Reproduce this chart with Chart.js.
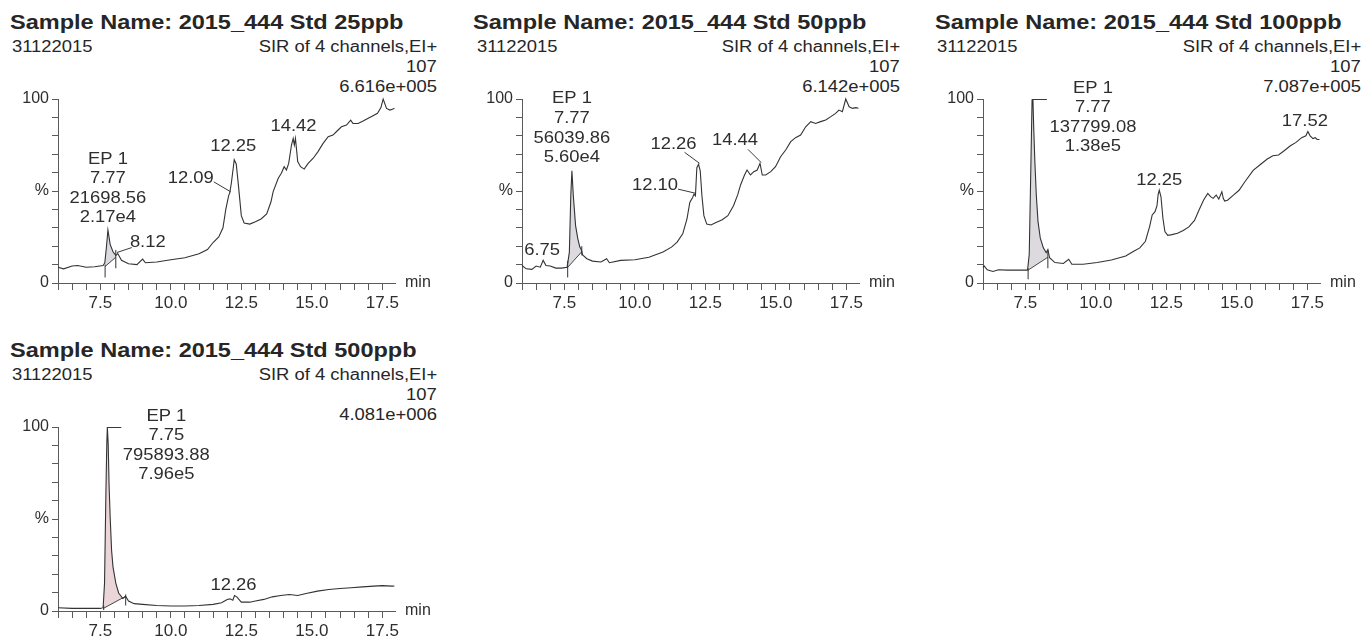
<!DOCTYPE html>
<html lang="en">
<head>
<meta charset="UTF-8">
<title>SIR chromatograms 2015_444</title>
<script src="https://cdn.jsdelivr.net/npm/chart.js"></script>
<style>
  body { margin: 0; background: #fff; }
  #page { position: relative; width: 1363px; height: 637px; overflow: hidden; font-family: "Liberation Sans", Arial, sans-serif; color: #262626; }
  #page canvas { position: absolute; }
  .txt { position: absolute; white-space: nowrap; }
  .title { font: bold 21px/24px "Liberation Sans", Arial, sans-serif; transform: scaleX(1.12); transform-origin: 0 0; }
  .sub { font: 16px/18px "Liberation Sans", Arial, sans-serif; transform: scaleX(1.15); transform-origin: 0 0; }
  .sub.r { transform-origin: 100% 0; text-align: right; }
</style>
</head>
<body>
<div id="page"></div>

<script>
// ---- axis ticks ----
const xTicks = [6.0, 6.5, 7.0, 7.5, 8.0, 8.5, 9.0, 9.5, 10.0, 10.5, 11.0, 11.5, 12.0, 12.5, 13.0, 13.5, 14.0, 14.5, 15.0, 15.5, 16.0, 16.5, 17.0, 17.5];
const xLabelTicks = [7.5, 10.0, 12.5, 15.0, 17.5];
const yTicks = [0, 10, 20, 30, 40, 50, 60, 70, 80, 90, 100];
const yLabelTicks = [0, 50, 100];
const yLabelNames = ['0', '%', '100'];

// ---- 25 ppb ----
const t25 = [6.0, 6.2, 6.5, 6.7, 7.0, 7.3, 7.6, 7.66, 7.72, 7.77, 7.85, 7.95, 8.05, 8.12, 8.25, 8.5, 8.8, 9.0, 9.1, 9.5,
  10.0, 10.5, 11.0, 11.3, 11.5, 11.7, 11.85, 11.95, 12.05, 12.09, 12.15, 12.25, 12.32, 12.4, 12.5, 12.6, 12.8, 13.0, 13.2, 13.4,
  13.55, 13.63, 13.81, 13.92, 14.02, 14.1, 14.18, 14.28, 14.34, 14.38, 14.42, 14.5, 14.6, 14.73, 14.87, 15.05, 15.22, 15.4, 15.58, 15.75,
  15.87, 16.05, 16.23, 16.38, 16.46, 16.64, 16.82, 17.0, 17.17, 17.33, 17.45, 17.53, 17.65, 17.77, 17.88, 17.93];
const i25 = [8.6, 7.7, 9.2, 9.5, 8.6, 8.8, 9.5, 11, 20, 28.8, 21, 17, 15, 16, 12.3, 10.5, 10, 13, 11, 11.4,
  12.6, 13.7, 15.9, 18.2, 22, 25, 30, 40, 47.4, 49, 54.6, 67, 64.7, 52.8, 36.6, 32.6, 32, 33.3, 34.8, 37.5,
  44, 49.7, 56.9, 59.6, 63.2, 61.4, 65, 75, 78.6, 75, 78.6, 66, 63.2, 61.9, 65, 67.8, 71.4, 75.9, 79.5, 80.4,
  82.2, 84.9, 85.8, 88.5, 86.7, 86.7, 88, 89.5, 90.9, 92.2, 95.3, 100, 94.9, 94, 94.6, 95];
const area25T = [7.67, 8.05];
const area25Base = [9, 14];
const area25Marks = [[3, 10], [8, 18]];

// ---- 50 ppb ----
const t50 = [6.0, 6.15, 6.35, 6.5, 6.65, 6.75, 6.85, 7.0, 7.2, 7.4, 7.6, 7.68, 7.73, 7.77, 7.82, 7.9, 7.98, 8.05, 8.1, 8.15,
  8.3, 8.5, 8.8, 9.0, 9.1, 9.5, 10.0, 10.5, 11.0, 11.3, 11.5, 11.7, 11.85, 11.95, 12.05, 12.1, 12.15, 12.2, 12.26, 12.32,
  12.38, 12.45, 12.55, 12.7, 12.9, 13.1, 13.3, 13.5, 13.65, 13.75, 13.89, 13.98, 14.1, 14.22, 14.34, 14.44, 14.52, 14.64, 14.82, 14.99,
  15.17, 15.35, 15.53, 15.7, 15.88, 16.06, 16.24, 16.41, 16.59, 16.77, 16.95, 17.12, 17.24, 17.36, 17.48, 17.6, 17.72, 17.84, 17.93];
const i50 = [9.5, 7.7, 7.4, 9.2, 8.6, 12.3, 9.5, 9.2, 8.1, 8.1, 8.6, 16.8, 47.4, 61, 47.4, 31.2, 24, 19.5, 18.2, 15.3,
  13.2, 11.9, 11.4, 13.2, 11, 12.3, 12.6, 14, 16.8, 19.5, 22.2, 26.7, 34.8, 43.8, 46.5, 48.3, 47.4, 62.7, 64.5, 61,
  47.4, 36.6, 32, 31.5, 33, 34.4, 36.6, 42, 48, 53.3, 58.7, 61.4, 58.7, 60.5, 61.4, 65, 58.7, 58.7, 60.5, 63.2,
  68.6, 72.3, 76.8, 79, 80.4, 84.9, 87.7, 86.7, 87.7, 88.6, 90.4, 92.2, 94, 93.1, 100, 95.8, 94.9, 95.3, 95];
const area50T = [7.62, 8.12];
const area50Base = [8.5, 17];
const area50Marks = [[3, 12], [15, 20]];

// ---- 100 ppb ----
const t100 = [6.0, 6.04, 6.15, 6.35, 6.55, 6.85, 7.05, 7.35, 7.58, 7.64, 7.7, 7.74, 7.77, 7.8, 7.84, 7.89, 7.95, 8.03, 8.14, 8.24,
  8.3, 8.36, 8.55, 8.85, 9.04, 9.15, 9.55, 10.05, 10.55, 11.06, 11.36, 11.56, 11.76, 11.91, 12.0, 12.1, 12.17, 12.21, 12.25, 12.31,
  12.38, 12.45, 12.55, 12.7, 12.9, 13.1, 13.3, 13.5, 13.66, 13.82, 13.97, 14.07, 14.16, 14.27, 14.36, 14.47, 14.52, 14.57, 14.67, 14.88,
  15.08, 15.28, 15.58, 15.87, 16.08, 16.28, 16.48, 16.68, 16.9, 17.1, 17.3, 17.45, 17.52, 17.6, 17.7, 17.78, 17.85, 17.93];
const i100 = [8.5, 9.3, 7.2, 6.3, 7.2, 7, 7, 7, 7, 15.6, 65.6, 99.6, 100, 83.5, 65.6, 47.8, 33.5, 24.5, 19.1, 16.5,
  18.2, 13.8, 11.1, 10.6, 12.9, 10.2, 10.2, 11.1, 12.5, 14.7, 17.4, 19.1, 22.7, 30.8, 37, 38.8, 42, 48, 50.4, 47,
  35.2, 28, 25.9, 26.3, 27, 28.5, 30.5, 34, 39.7, 45, 48.7, 46.9, 46, 47.8, 45.6, 49.6, 46, 44.5, 45, 47.8,
  50.4, 54.9, 61.2, 64.8, 67.4, 69.2, 69.6, 71.9, 74.6, 76.4, 79, 80, 82.3, 80, 78.5, 79, 78, 78];
const area100T = [7.6, 8.3];
const area100Base = [7, 14];
const area100Marks = [[2, 8], [8, 18]];

// ---- 500 ppb ----
const t500 = [6.0, 6.5, 7.0, 7.5, 7.6, 7.65, 7.7, 7.73, 7.75, 7.78, 7.81, 7.85, 7.9, 7.95, 8.05, 8.15, 8.3, 8.4, 8.5, 8.7,
  9.0, 9.5, 10.0, 10.5, 11.0, 11.5, 11.8, 12.0, 12.1, 12.2, 12.26, 12.34, 12.5, 12.8, 13.0, 13.3, 13.6, 13.9, 14.2, 14.5,
  14.8, 15.2, 15.6, 16.0, 16.4, 16.8, 17.2, 17.5, 17.85, 17.93];
const i500 = [1.8, 1.4, 1.4, 1.4, 1.8, 15, 65.5, 90.7, 100, 90.7, 69, 51, 33, 24, 15.2, 9.8, 6.8, 8, 5.4, 4,
  3.6, 3, 2.7, 2.7, 3, 3.6, 4.5, 6.3, 6.6, 5.9, 8.4, 7.7, 4.8, 4.8, 5.4, 6.3, 7.7, 8.4, 9, 8.4,
  9.5, 10.8, 11.7, 12.2, 12.6, 13.1, 13.5, 13.8, 13.5, 13.6];
const area500T = [7.62, 8.4];
const area500Base = [1.5, 8];
const area500Marks = [[0.5, 3], [3, 9]];

// ---- panels: layout and labels ----
const panels = [
  { id: 'c25', left: 0, top: 0, axis: 58, titleX: 10, dateX: 12, rightX: 437,
    title: 'Sample Name: 2015_444 Std 25ppb', scaleMax: '6.616e+005',
    t: t25, v: i25, areaT: area25T, areaBase: area25Base, marks: area25Marks, fill: 'rgba(214,212,217,0.85)',
    peaks: [
      { t: 7.77, lines: ['EP 1', '7.77', '21698.56', '2.17e4'], dx: 0, dy: -12 },
      { t: 8.12, lines: ['8.12'], dx: 30, dy: -11, leader: [14, -6] },
      { t: 12.09, lines: ['12.09'], dx: -39, dy: -14, leader: [-16, -11] },
      { t: 12.25, lines: ['12.25'], dx: -1, dy: -13 },
      { t: 14.42, lines: ['14.42'], dx: -2, dy: -12 }
    ] },
  { id: 'c50', left: 460, top: 0, axis: 522, titleX: 473, dateX: 477, rightX: 900,
    title: 'Sample Name: 2015_444 Std 50ppb', scaleMax: '6.142e+005',
    t: t50, v: i50, areaT: area50T, areaBase: area50Base, marks: area50Marks, fill: 'rgba(214,212,217,0.85)',
    peaks: [
      { t: 7.77, lines: ['EP 1', '7.77', '56039.86', '5.60e4'], dx: 0, dy: -13 },
      { t: 6.75, lines: ['6.75'], dx: -1, dy: -10 },
      { t: 12.10, lines: ['12.10'], dx: -39, dy: -9, leader: [-16, -5] },
      { t: 12.26, lines: ['12.26'], dx: -25, dy: -20, leader: [-14, -12] },
      { t: 14.44, lines: ['14.44'], dx: -25, dy: -23, leader: [-12, -14] }
    ] },
  { id: 'c100', left: 915, top: 0, axis: 983, titleX: 935, dateX: 937, rightX: 1361,
    title: 'Sample Name: 2015_444 Std 100ppb', scaleMax: '7.087e+005',
    t: t100, v: i100, areaT: area100T, areaBase: area100Base, marks: area100Marks, fill: 'rgba(214,212,217,0.85)',
    peaks: [
      { t: 7.77, lines: ['EP 1', '7.77', '137799.08', '1.38e5'], dx: 60, dy: 48, bracket: 14 },
      { t: 12.25, lines: ['12.25'], dx: 0, dy: -10 },
      { t: 17.52, lines: ['17.52'], dx: -3, dy: -10 }
    ] },
  { id: 'c500', left: 0, top: 328, axis: 58, titleX: 10, dateX: 12, rightX: 437,
    title: 'Sample Name: 2015_444 Std 500ppb', scaleMax: '4.081e+006',
    t: t500, v: i500, areaT: area500T, areaBase: area500Base, marks: area500Marks, fill: 'rgba(232,208,213,0.9)',
    peaks: [
      { t: 7.75, lines: ['EP 1', '7.75', '795893.88', '7.96e5'], dx: 59, dy: 48, bracket: 14 },
      { t: 12.26, lines: ['12.26'], dx: -1, dy: -10 }
    ] }
];

const CANVAS_W = 448, CANVAS_H = 320, PLOT_W = 337, PLOT_TOP = 99, PLOT_BOTTOM = 283;
const INK = '#2e2e2e', AXIS = '#5a5a5a';
const panelById = {};

Chart.defaults.font.family = '"Liberation Sans", Arial, sans-serif';
Chart.defaults.color = INK;

function valueAt(ts, vs, t) {
  for (let i = 1; i < ts.length; i++) {
    if (t <= ts[i]) {
      const k = (t - ts[i - 1]) / (ts[i] - ts[i - 1]);
      return vs[i - 1] + k * (vs[i] - vs[i - 1]);
    }
  }
  return vs[vs.length - 1];
}

function stretchText(ctx, s, x, y) {
  ctx.save();
  ctx.translate(x, y);
  ctx.scale(1.15, 1);
  ctx.fillText(s, 0, 0);
  ctx.restore();
}

const peakPlugin = {
  id: 'peaks',
  beforeDatasetsDraw(chart) {
    const p = panelById[chart.canvas.id];
    const { ctx, scales: { x, y } } = chart;
    const pts = [[p.areaT[0], valueAt(p.t, p.v, p.areaT[0])]];
    p.t.forEach((tt, i) => { if (tt > p.areaT[0] && tt < p.areaT[1]) pts.push([tt, p.v[i]]); });
    pts.push([p.areaT[1], valueAt(p.t, p.v, p.areaT[1])]);
    ctx.save();
    ctx.beginPath();
    pts.forEach(([tt, vv], i) => {
      const X = x.getPixelForValue(tt), Y = y.getPixelForValue(vv);
      if (i) ctx.lineTo(X, Y); else ctx.moveTo(X, Y);
    });
    ctx.lineTo(x.getPixelForValue(p.areaT[1]), y.getPixelForValue(p.areaBase[1]));
    ctx.lineTo(x.getPixelForValue(p.areaT[0]), y.getPixelForValue(p.areaBase[0]));
    ctx.closePath();
    ctx.fillStyle = p.fill;
    ctx.fill();
    ctx.restore();
  },
  afterDatasetsDraw(chart) {
    const p = panelById[chart.canvas.id];
    const { ctx, chartArea, scales: { x, y } } = chart;
    ctx.save();
    ctx.fillStyle = INK;
    ctx.strokeStyle = '#3a3a3a';
    ctx.lineWidth = 1;
    ctx.font = '16px "Liberation Sans", Arial, sans-serif';
    ctx.textAlign = 'center';
    ctx.textBaseline = 'middle';
    p.peaks.forEach(pk => {
      const px = x.getPixelForValue(pk.t);
      const py = y.getPixelForValue(valueAt(p.t, p.v, pk.t));
      const n = pk.lines.length;
      pk.lines.forEach((s, i) => stretchText(ctx, s, px + pk.dx, py + pk.dy - (n - 1 - i) * 19.6));
      if (pk.leader) {
        ctx.beginPath();
        ctx.moveTo(px + pk.leader[0], py + pk.leader[1]);
        ctx.lineTo(px - Math.sign(pk.leader[0]), py - 1);
        ctx.stroke();
      }
      if (pk.bracket) {
        ctx.beginPath();
        ctx.moveTo(px, py + 0.5);
        ctx.lineTo(px + pk.bracket, py + 0.5);
        ctx.stroke();
      }
    });
    ctx.textAlign = 'left';
    ctx.fillText('min', chartArea.right + 10, chartArea.bottom);
    ctx.restore();
  }
};

const page = document.getElementById('page');

function addText(cls, text, left, top, right) {
  const d = document.createElement('div');
  d.className = 'txt ' + cls;
  d.textContent = text;
  d.style.top = top + 'px';
  if (right !== undefined) d.style.right = (1363 - right) + 'px';
  else d.style.left = left + 'px';
  page.appendChild(d);
}

panels.forEach(p => {
  panelById[p.id] = p;
  addText('title', p.title, p.titleX, p.top + 10);
  addText('sub', '31122015', p.dateX, p.top + 38);
  addText('sub r', 'SIR of 4 channels,EI+', 0, p.top + 38, p.rightX);
  addText('sub r', '107', 0, p.top + 58, p.rightX);
  addText('sub r', p.scaleMax, 0, p.top + 78, p.rightX);

  const canvas = document.createElement('canvas');
  canvas.id = p.id;
  canvas.width = CANVAS_W;
  canvas.height = CANVAS_H;
  canvas.style.left = p.left + 'px';
  canvas.style.top = p.top + 'px';
  page.appendChild(canvas);

  const yW = p.axis - p.left;
  const line = (data, w) => ({ data, borderColor: '#333', borderWidth: w, pointRadius: 0, tension: 0, clip: false });

  new Chart(canvas.getContext('2d'), {
    type: 'line',
    data: {
      datasets: [
        line(p.t.map((tt, i) => ({ x: tt, y: p.v[i] })), 1.1),
        line([{ x: p.areaT[0], y: p.areaBase[0] }, { x: p.areaT[1], y: p.areaBase[1] }], 0.9),
        line([{ x: p.areaT[0], y: p.marks[0][0] }, { x: p.areaT[0], y: p.marks[0][1] }], 1),
        line([{ x: p.areaT[1], y: p.marks[1][0] }, { x: p.areaT[1], y: p.marks[1][1] }], 1)
      ]
    },
    options: {
      responsive: false,
      animation: false,
      events: [],
      layout: { padding: { top: PLOT_TOP, left: 0, right: CANVAS_W - yW - PLOT_W, bottom: 0 } },
      plugins: { legend: { display: false }, tooltip: { enabled: false } },
      scales: {
        x: {
          type: 'linear', min: 6.0, max: 17.95,
          afterBuildTicks: s => { s.ticks = xTicks.map(v => ({ value: v })); },
          afterFit: s => { s.height = CANVAS_H - PLOT_BOTTOM; s.paddingLeft = 0; s.paddingRight = 0; },
          grid: { drawOnChartArea: false, tickLength: 7, color: AXIS },
          border: { color: AXIS },
          ticks: {
            autoSkip: false, maxRotation: 0, padding: 3, color: INK,
            font: { size: 17 },
            callback: v => xLabelTicks.includes(v) ? v.toFixed(1) : ''
          }
        },
        y: {
          type: 'linear', min: 0, max: 100,
          afterBuildTicks: s => { s.ticks = yTicks.map(v => ({ value: v })); },
          afterFit: s => { s.width = yW; s.paddingTop = 0; s.paddingBottom = 0; },
          grid: { drawOnChartArea: false, tickLength: 6, color: AXIS },
          border: { color: AXIS },
          ticks: {
            autoSkip: false, padding: 3, color: INK,
            font: { size: 16 },
            callback: v => { const k = yLabelTicks.indexOf(v); return k >= 0 ? yLabelNames[k] : ''; }
          }
        }
      }
    },
    plugins: [peakPlugin]
  });
});
</script>
</body>
</html>
